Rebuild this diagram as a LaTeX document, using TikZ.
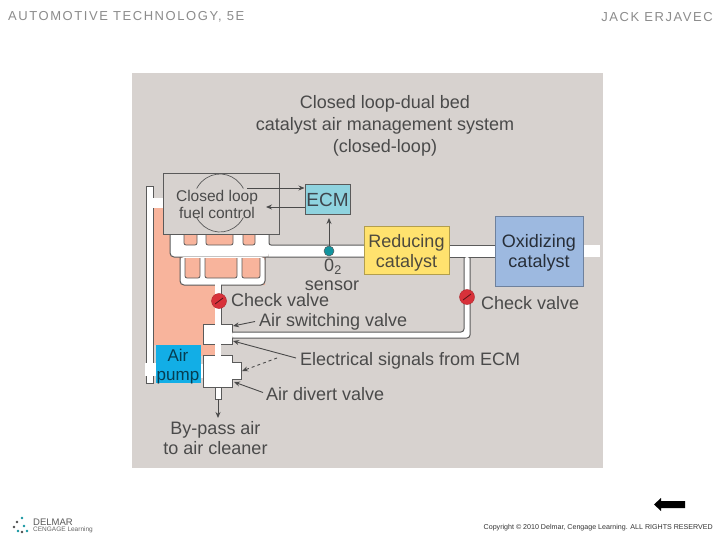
\documentclass[tikz,border=0pt]{standalone}
\usepackage{fontspec}
\setmainfont{Liberation Sans}
\newfontfamily\headfont[LetterSpace=12]{Liberation Sans}
\usepackage{xcolor}
\usetikzlibrary{positioning, shapes, arrows.meta}
\definecolor{panelgray}{HTML}{D7D2CF}
\definecolor{pinkair}{HTML}{F8B49C}
\definecolor{inkgray}{HTML}{4A4A4A}
\definecolor{linegray}{HTML}{5A5A5A}
\definecolor{ecmblue}{HTML}{8FD3DF}
\definecolor{pumpblue}{HTML}{12AEE6}
\definecolor{redyellow}{HTML}{FFE26E}
\definecolor{oxiblue}{HTML}{9DB9E0}
\definecolor{valvered}{HTML}{D8313A}
\definecolor{sensorteal}{HTML}{12949F}
\tikzset{
	label18/.style={text=inkgray, inner sep=0pt, align=center, font=\fontsize{18}{22}\selectfont},
	tag18/.style={label18, anchor=west},
	catbox/.style={draw=#1!70!black, fill=#1, line width=1pt, inner sep=0pt},
	catlabel/.style={inner sep=0pt, align=center, font=\fontsize{18}{20}\selectfont},
	pipe/.style={fill=white, draw=none},
	pipeline/.style={draw=linegray, line width=1pt},
	hole/.style={fill=pinkair, draw=linegray, line width=0.8pt, rounded corners=2pt},
	checkvalve/.style={circle, fill=valvered, draw=valvered!80!black, minimum size=15pt, inner sep=0pt},
	leader/.style={draw=inkgray, line width=0.9pt, -{Stealth[length=6pt, width=5pt]}},
}
\begin{document}
\begin{tikzpicture}[x=1pt, y=-1pt]
	\useasboundingbox (0,0) rectangle (720,540);
	\fill[white] (0,0) rectangle (720,540);
	% Panel and air side:
	\fill[panelgray] (132,73) rectangle (603,468);
	\fill[pinkair] (153,205) -- (265,205) -- (265,285) -- (215,285) -- (215,345) -- (153,345) -- cycle;
	\fill[pinkair] (201,345) rectangle (215,356);
	\draw[pipeline, fill=white, line width=0.8pt] (146,186) rectangle (153,383);
	\fill[white] (153,198) rectangle (164,208);
	\fill[white] (145,363) rectangle (157,376);
	% Exhaust manifold and pipe:
	\fill[white, rounded corners=4pt] (170,230) -- (269,230) -- (269,257) -- (170,257) -- cycle;
	\fill[pipe] (269,245) rectangle (600,257);
	\draw[pipeline] (269,234) -- (269,242) [rounded corners=2pt] -- (269,245) -- (364,245);
	\draw[pipeline, rounded corners=4pt] (170,234) -- (170,257) -- (364,257);
	\draw[pipeline] (449,245) -- (495,245);
	\draw[pipeline] (449,257) -- (495,257);
	\draw[hole] (184,232) -- (184,245) -- (197,245) -- (197,232);
	\draw[hole] (206,232) -- (206,245) -- (233,245) -- (233,232);
	\draw[hole] (243,232) -- (243,245) -- (255,245) -- (255,232);
	% Lower manifold:
	\fill[white, rounded corners=4pt] (180,257) -- (180,285) -- (265,285) -- (265,257) -- cycle;
	\draw[pipeline, rounded corners=4pt] (180,257) -- (180,285) -- (215,285);
	\draw[pipeline, rounded corners=4pt] (265,257) -- (265,285) -- (221,285);
	\draw[hole] (185,258) -- (185,278) -- (200,278) -- (200,258);
	\draw[hole] (205,258) -- (205,278) -- (237,278) -- (237,258);
	\draw[hole] (242,258) -- (242,278) -- (260,278) -- (260,258);
	\fill[pipe] (215,284) rectangle (221,356);
	\draw[pipeline, line width=0.7pt] (221,285) -- (221,324);
	% Air switching valve and return pipe:
	\fill[pipe] (203,324) rectangle (232,344);
	\fill[pipe, rounded corners=3pt] (232,332) -- (464,332) -- (464,257) -- (470,257) -- (470,338) -- (232,338) -- cycle;
	\draw[pipeline] (221,324) -- (232,324) -- (232,332);
	\draw[pipeline, rounded corners=3pt] (232,332) -- (464,332) -- (464,257);
	\draw[pipeline, rounded corners=3pt] (232,338) -- (470,338) -- (470,257);
	\draw[pipeline] (232,338) -- (232,344) -- (221,344);
	\draw[pipeline] (203,324) -- (215,324);
	\draw[pipeline] (203,324) -- (203,344) -- (215,344);
	% Air divert valve:
	\fill[pipe] (203,355) -- (232,355) -- (232,362) -- (241,362) -- (241,379) -- (232,379) -- (232,387) -- (203,387) -- cycle;
	\draw[pipeline] (221,355) -- (232,355) -- (232,362) -- (241,362) -- (241,379) -- (232,379) -- (232,387) -- (203,387) -- (203,355) -- (215,355);
	\draw[pipeline, fill=white, line width=0.7pt] (215,387) rectangle (221,399);
	% Components:
	\node[draw=linegray, fill=panelgray, line width=1pt, minimum width=116pt, minimum height=60pt, inner sep=0pt] (manifold) at (221,204){};
	\draw[linegray, line width=0.7pt] (243.4,188.5) arc[start angle=30, end angle=150, x radius=27pt, y radius=29pt];
	\draw[linegray, line width=0.7pt] (196.6,217.5) arc[start angle=210, end angle=330, x radius=27pt, y radius=29pt];
	\node[label18, font=\fontsize{15.5}{17}\selectfont] (fuelcontrol) at (217,204.5){Closed loop\\fuel control};
	\node[draw=linegray, fill=ecmblue, line width=1pt, minimum width=45pt, minimum height=30pt, inner sep=0pt, text=black!80!cyan, font=\fontsize{19}{21}\selectfont] (ecm) at (327.5,200){ECM};
	\node[catbox=redyellow, minimum width=85pt, minimum height=47pt] (reducing) at (406.5,250.5){};
	\node[catlabel, text=black!80!yellow] (reducinglabel) at (406.5,252.5){Reducing\\catalyst};
	\node[catbox=oxiblue, minimum width=88pt, minimum height=69pt] (oxidizing) at (539,251.5){};
	\node[catlabel, text=black!75!oxiblue] (oxidizinglabel) at (539,252.5){Oxidizing\\catalyst};
	\node[fill=pumpblue, minimum width=45pt, minimum height=38pt, inner sep=0pt] (airpump) at (178.5,364){};
	\node[inner sep=0pt, align=center, text=black!65!pumpblue, font=\fontsize{17}{18.5}\selectfont] (pumplabel) at (178,366.5){Air\\pump};
	\fill[white] (201,364) rectangle (203,378);
	\node[circle, fill=sensorteal, draw=linegray, line width=0.5pt, minimum size=10pt, inner sep=0pt] (sensor) at (329,251){};
	\node[checkvalve] (valveone) at (219,301){};
	\node[checkvalve] (valvetwo) at (467,297){};
	\draw[valvered!40!black, line width=0.8pt] (215,304) -- (223,298);
	\draw[valvered!40!black, line width=0.8pt] (463,300) -- (471,294);
	% Labels:
	\node[label18] (title) at (385,126){Closed loop-dual bed\\catalyst air management system\\(closed-loop)};
	\node[label18, anchor=south] (oxygenlabel) at (333,275){0$_{\mathrm{2}}$};
	\node[label18, anchor=north] (sensorlabel) at (332,281){sensor};
	\node[tag18] (checkone) at (231,300.5){Check valve};
	\node[tag18] (checktwo) at (481,303.5){Check valve};
	\node[tag18] (switchlabel) at (259,321.5){Air switching valve};
	\node[tag18] (signals) at (300,361){Electrical signals from ECM};
	\node[tag18] (divertlabel) at (266,394.5){Air divert valve};
	\node[label18, font=\fontsize{18}{19.5}\selectfont] (bypass) at (215.5,438){By-pass air\\to air cleaner};
	% Arrows:
	\coordinate (ecmin) at (ecm.west |- 0,188);
	\coordinate (ecmout) at (ecm.west |- 0,207);
	\coordinate (tosensor) at (329,218);
	\coordinate (switchtip) at (233,326);
	\coordinate (signaltip) at (233,341);
	\coordinate (dashtip) at (242,371);
	\coordinate (dashfrom) at (277,358);
	\coordinate (diverttip) at (234,382);
	\coordinate (bypassfrom) at (218,399);
	\coordinate (bypasstip) at (218,418);
	\draw[leader] (247,188) -- (ecmin);
	\draw[leader] (ecmout) -- (266,207);
	\draw[leader] (sensor) -- (tosensor);
	\draw[leader] (switchlabel.west) ++(-4,0) -- (switchtip);
	\draw[leader] (signals.west) ++(-4,-3) -- (signaltip);
	\draw[leader, dashed] (dashfrom) -- (dashtip);
	\draw[leader] (divertlabel.west) ++(-3,-2) -- (diverttip);
	\draw[leader] (bypassfrom) -- (bypasstip);
	% Slide frame:
	\node[anchor=west, inner sep=0pt, text=black!45, font=\headfont\fontsize{13}{14}\selectfont] (booktitle) at (8,17){AUTOMOTIVE TECHNOLOGY, 5E};
	\node[anchor=east, inner sep=0pt, text=black!45, font=\headfont\fontsize{13}{14}\selectfont] (authorname) at (713,17){JACK ERJAVEC};
	\fill[black] (654,504.5) -- (661,498) -- (661,501) -- (685,501) -- (685,508) -- (661,508) -- (661,511) -- cycle;
	\node[anchor=east, inner sep=0pt, text=black!80, font=\fontsize{7.1}{8}\selectfont] (copyright) at (713,528){Copyright © 2010 Delmar, Cengage Learning. ALL RIGHTS RESERVED};
	\node[anchor=west, inner sep=0pt, text=black!65, font=\fontsize{9.5}{10}\selectfont] (delmar) at (33,522){DELMAR};
	\node[anchor=west, inner sep=0pt, text=black!60, font=\fontsize{6.5}{7}\selectfont] (cengage) at (33,530){CENGAGE Learning};
	\foreach \dx/\dy/\dc in {22/518/sensorteal, 17/522/black!70, 14/527/black!70, 24/526/sensorteal, 18/531/sensorteal, 27/531/sensorteal, 22/532/black!70}
		\fill[\dc] (\dx,\dy) circle (1.4pt);
\end{tikzpicture}
\end{document}
